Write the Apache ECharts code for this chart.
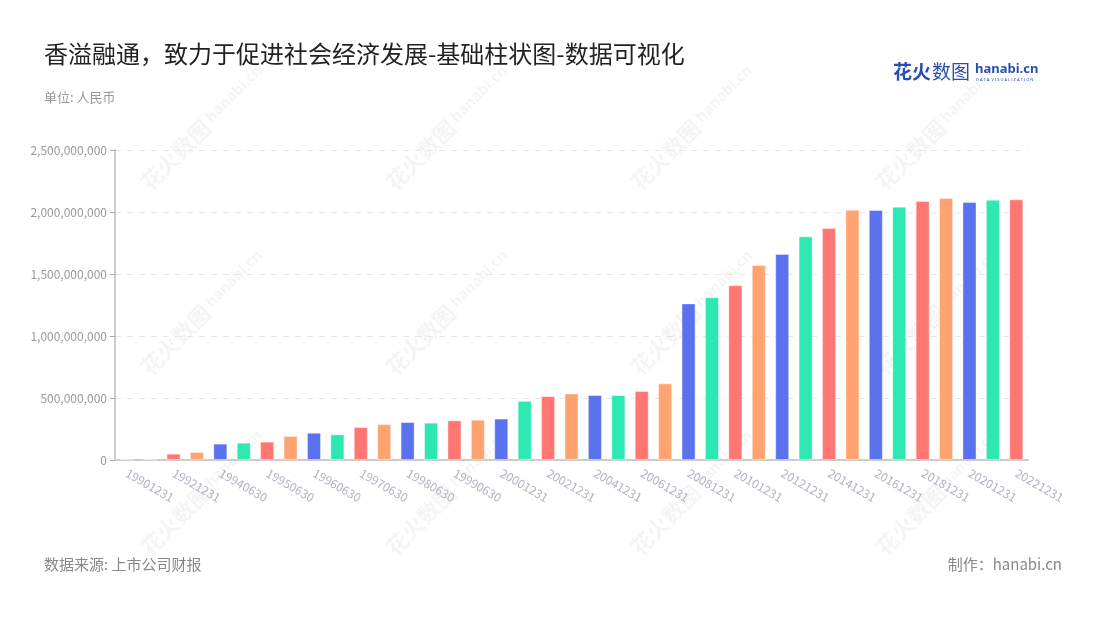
<!DOCTYPE html>
<html>
<head>
<meta charset="utf-8">
<title>基础柱状图</title>
<script src="https://cdn.jsdelivr.net/npm/echarts@6/dist/echarts.min.js"></script>
<style>
  html, body { margin: 0; padding: 0; background: #fff; }
  #bar-chart { width: 1100px; height: 620px; }
</style>
</head>
<body>
<div id="bar-chart"></div>
<script>
// 日期
var dates = [
  '19901231', '19911231', '19921231', '19931231', '19940630', '19941231',
  '19950630', '19951231', '19960630', '19961231', '19970630', '19971231',
  '19980630', '19981231', '19990630', '19991231', '20001231', '20011231',
  '20021231', '20031231', '20041231', '20051231', '20061231', '20071231',
  '20081231', '20091231', '20101231', '20111231', '20121231', '20131231',
  '20141231', '20151231', '20161231', '20171231', '20181231', '20191231',
  '20201231', '20211231', '20221231'
];

// 数值（人民币）
var values = [
  5000000, 5000000, 51000000, 65000000, 132000000, 140000000,
  148000000, 194000000, 220000000, 207000000, 266000000, 290000000,
  306000000, 301000000, 320000000, 325000000, 334000000, 477000000,
  515000000, 537000000, 524000000, 524000000, 556000000, 618000000,
  1263000000, 1312000000, 1409000000, 1573000000, 1661000000, 1804000000,
  1871000000, 2019000000, 2016000000, 2043000000, 2089000000, 2113000000,
  2081000000, 2099000000, 2102000000
];

// 循环配色
var palette = ['#5a72ee', '#2ee8b2', '#ff7672', '#ffa470'];

// 水印
var marks = [];
var cols = [165, 410, 655, 900];
var rows = [150, 335, 515];
rows.forEach(function (y) {
  cols.forEach(function (x) {
    marks.push({
      type: 'group',
      x: x,
      y: y,
      rotation: Math.PI / 4,
      silent: true,
      children: [
        { type: 'text', style: { text: '花火数图', x: -40, y: 0, font: 'bold 22px "Noto Sans CJK SC"', fill: 'rgba(0,0,0,0.045)' } },
        { type: 'text', style: { text: 'hanabi.cn', x: 52, y: 2, font: 'bold 15px "Noto Sans"', fill: 'rgba(0,0,0,0.045)' } }
      ]
    });
  });
});

var barChart = echarts.init(document.getElementById('bar-chart'));

var option = {
  backgroundColor: '#fff',
  textStyle: { fontFamily: '"Noto Sans CJK SC", "Noto Sans", sans-serif' },
  title: {
    text: '香溢融通，致力于促进社会经济发展-基础柱状图-数据可视化',
    subtext: '单位: 人民币',
    left: 44,
    top: 42,
    padding: 0,
    itemGap: 25,
    textStyle: { fontSize: 24, fontWeight: 'normal', color: '#222' },
    subtextStyle: { fontSize: 13, color: '#999' }
  },
  grid: { left: 115, right: 72, top: 150, bottom: 160 },
  xAxis: {
    type: 'category',
    data: dates,
    axisLine: { lineStyle: { color: '#ccc', width: 2 } },
    axisTick: { interval: 1, alignWithLabel: true, lineStyle: { color: '#aaa' } },
    axisLabel: { interval: 1, rotate: -30, color: '#b0b3c2', fontSize: 12, margin: 12 }
  },
  yAxis: {
    type: 'value',
    min: 0,
    max: 2500000000,
    interval: 500000000,
    axisLine: { show: true, lineStyle: { color: '#ccc', width: 2 } },
    axisTick: { show: true, lineStyle: { color: '#aaa' } },
    axisLabel: {
      color: '#999',
      fontSize: 12,
      formatter: function (v) { return v.toLocaleString('en-US'); }
    },
    splitLine: { lineStyle: { color: '#e6e6e6', type: [6, 6] } }
  },
  series: [{
    type: 'bar',
    data: values,
    barWidth: '60%',
    itemStyle: {
      color: function (p) { return palette[p.dataIndex % 4]; },
      borderColor: 'rgba(255,255,255,0.4)',
      borderWidth: 1
    }
  }],
  graphic: marks.concat([
    { type: 'text', left: 893, top: 62, style: { text: '花火', font: 'bold 19px "Noto Sans CJK SC"', fill: '#2b4fb0' } },
    { type: 'text', left: 932, top: 62, style: { text: '数图', font: '19px "Noto Sans CJK SC"', fill: '#2b4fb0' } },
    { type: 'text', left: 975, top: 63, style: { text: 'hanabi.cn', font: 'bold 13px "Noto Sans"', fill: '#2b4fb0' } },
    { type: 'text', left: 976, top: 78, style: { text: 'D A T A  V I S U A L I Z A T I O N', font: '4px "Noto Sans"', fill: '#2b4fb0' } },
    { type: 'text', left: 44, top: 557, style: { text: '数据来源: 上市公司财报', font: '15px "Noto Sans CJK SC"', fill: '#888' } },
    { type: 'text', right: 38, top: 557, style: { text: '制作：hanabi.cn', font: '15px "Noto Sans CJK SC"', fill: '#888' } }
  ])
};

barChart.setOption(option);
</script>
</body>
</html>
